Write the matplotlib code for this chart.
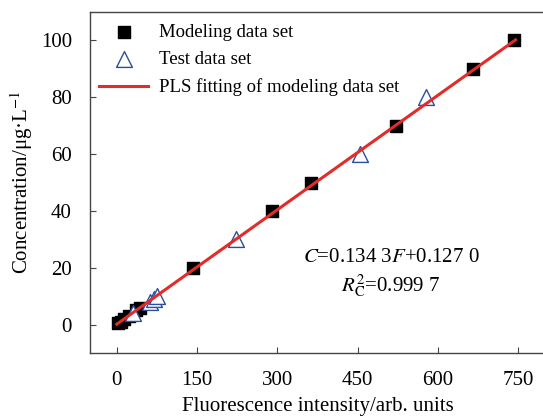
import matplotlib
matplotlib.use("Agg")
import matplotlib.pyplot as plt
import numpy as np

plt.rcParams['font.family'] = ['Liberation Serif', 'DejaVu Serif']
plt.rcParams['mathtext.fontset'] = 'stix'

# modeling set (fluorescence, concentration)
model_F = [3, 7, 14, 22, 36, 44, 142, 290, 362, 522, 665, 742]
model_C = [0.5, 1, 2, 3, 5, 6, 20, 40, 50, 70, 90, 100]

# test set
test_F = [30, 62, 70, 76, 222, 454, 578]
test_C = [4, 8, 9, 10, 30, 60, 80]

# PLS fit C = 0.1343 F + 0.1270
slope = 0.1343
intercept = 0.1270
fit_F = np.array([0, 745])
fit_C = slope * fit_F + intercept

fig = plt.figure(figsize=(5.43, 4.17), dpi=100)
ax = fig.add_axes([90 / 543, 64 / 417, 455 / 543, 341 / 417])

ax.scatter(model_F, model_C, marker='s', s=85, color='black', zorder=3,
           label='Modeling data set')
ax.scatter(test_F, test_C, marker='^', s=130, facecolors='white',
           edgecolors='#2a4fa0', linewidths=1.0, zorder=4, label='Test data set')
ax.plot(fit_F, fit_C, color='#e22c2a', lw=2.2, zorder=5,
        label='PLS fitting of modeling data set')

ax.set_xlim(-50, 800)
ax.set_ylim(-10, 110)
ax.set_xticks([0, 150, 300, 450, 600, 750])
ax.set_yticks([0, 20, 40, 60, 80, 100])
ax.tick_params(direction='in', labelsize=15, length=4, color='#444444')
ax.tick_params(axis='y', pad=13)
ax.tick_params(axis='x', pad=13)
for s in ax.spines.values():
    s.set_color('#444444')
    s.set_linewidth(1.0)

ax.set_xlabel('Fluorescence intensity/arb. units', fontsize=15, labelpad=5)
ax.set_ylabel('Concentration/μg·L$^{-1}$', fontsize=15, labelpad=4)

ax.text(512, 23.5, '$C$=0.134 3$F$+0.127 0', fontsize=15, ha='center', va='center')
ax.text(512, 13.8, '$R^2_{\\mathrm{C}}$=0.999 7', fontsize=15, ha='center', va='center')

ax.legend(loc='upper left', frameon=False, fontsize=13.5, handlelength=2.6,
          borderaxespad=0.2, labelspacing=0.55, handletextpad=0.6,
          bbox_to_anchor=(0.0, 0.994), borderpad=0.3)

fig.savefig('out.png', dpi=100)
